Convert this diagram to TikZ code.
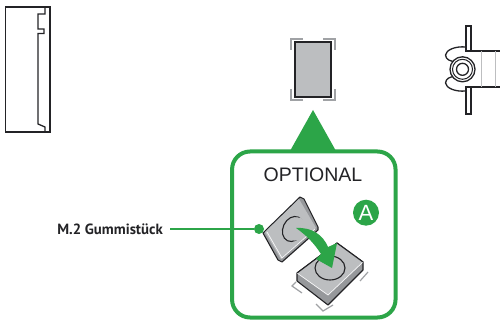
\documentclass[tikz,border=0pt]{standalone}
\usepackage{fontspec}
\setmainfont{Liberation Sans}
\newfontfamily\labelfont{PT Sans}
\definecolor{grn}{RGB}{44,165,72}
\definecolor{bodyg}{RGB}{188,190,192}
\definecolor{sideg}{RGB}{150,152,155}
\definecolor{dk}{RGB}{35,35,38}
\definecolor{brk}{RGB}{160,162,165}
\tikzset{
 ink/.style={draw=dk,line width=1.3pt,line join=miter},
 bracket/.style={draw=brk,line width=1.2pt},
 hair/.style={draw=brk!70,line width=0.8pt},
 edge/.style={draw=dk,line width=1.1pt,line join=round},
 whiteline/.style={draw=white!90!bodyg,line width=0.7pt},
 leader/.style={draw=grn,line width=2pt},
}
\begin{document}
\begin{tikzpicture}[x=1pt,y=-1pt]
\useasboundingbox (0,0) rectangle (500,320);
% left view
\draw[ink] (5.5,7) rectangle (50,132);
\draw[ink] (45,7) -- (45,14) -- (38,14) -- (38,29) -- (44,29) -- (44,33.5) -- (38,33.5) -- (38,124) -- (45,127) -- (45,132);
% top view
\draw[bracket] (291,50) -- (291,39) -- (303,39) (323,39) -- (335,39) -- (335,50)
 (335,89) -- (335,100) -- (323,100) (303,100) -- (291,100) -- (291,89);
\draw[ink,fill=bodyg] (295,42) rectangle (331,97);
% right view
\draw[ink] (471,51) -- (500,51) (471,87) -- (500,87);
\draw[hair] (481,51) -- (481,87) (495,51) -- (495,87);
\draw[ink,fill=white] (466,47) .. controls (455,46) and (446,50) .. (445.5,55) .. controls (446,60) and (450,61) .. (456,62) -- (466,56) -- cycle;
\draw[ink,fill=white] (466,91) .. controls (455,92) and (446,88) .. (445.5,83) .. controls (446,78) and (450,77) .. (456,76) -- (466,82) -- cycle;
\draw[ink,fill=white] (466,26) -- (471,26) -- (471,51) -- (466,51) -- cycle;
\draw[ink,fill=white] (466,87) -- (471,87) -- (471,114) -- (466,114) -- cycle;
\fill[white] (464,52) rectangle (472,86);
\draw[ink] (466,51) -- (471,51) (466,87) -- (471,87);
\draw[ink,fill=white] (462.5,69.3) circle (12.5);
\draw[ink,line width=1pt] (462.5,69.3) circle (10);
\draw[ink] (462.5,69.3) circle (6);
% panel
\fill[grn] (313,110) -- (336,151) -- (290,151) -- cycle;
\node[draw=grn,line width=4pt,fill=white,rounded corners=18pt,minimum width=163.5pt,minimum height=166pt,inner sep=0pt] (panel) at (313.8,234.5) {};
\node[font=\fontsize{19.5}{20}\selectfont,text=dk,inner sep=0pt] (opt) at (313,175) {OPTIONAL};
\node[circle,fill=grn,minimum size=26pt,inner sep=0pt,text=white,font=\fontsize{22}{22}\selectfont] (a) at (366,212.7) {A};
% upper piece
\draw[edge,fill=sideg] (300,197) -- (304,199) -- (318,227) -- (318,230) -- (282,262) -- (278,260) -- (263,233) -- cycle;
\fill[bodyg] (299,199) -- (316,228) -- (281,259) -- (265,232) -- cycle;
\draw[whiteline] (267,232) -- (282,258) -- (315,229);
\draw[edge,fill=bodyg] (293,229) ellipse[x radius=10,y radius=13,rotate=-25];
\fill[bodyg] (296,229) ellipse[x radius=10,y radius=12,rotate=-25];
% lower piece
\draw[edge,fill=sideg] (337,243) -- (363,262) -- (363,270) -- (328,305) -- (297,281) -- (297,273) -- cycle;
\fill[bodyg] (337,243) -- (363,262) -- (328,295) -- (297,273) -- cycle;
\draw[whiteline] (297,273) -- (328,295) -- (363,262);
\draw[edge] (337,243) -- (363,262) (337,243) -- (297,273);
\draw[edge] (330,268) ellipse[x radius=15,y radius=12];
\draw[bracket] (296,282) -- (292,286) -- (302,293) (316,304) -- (323,311) -- (333,305) (368,272) -- (360,281);
% arrow
\fill[grn] (296,228) .. controls (312,227) and (323,235) .. (328,247) -- (337,243) -- (332,268) -- (316,259) -- (321,254) .. controls (314,243) and (306,235) .. (296,228) -- cycle;
% label and leader
\node[inner sep=0pt,anchor=east,font=\labelfont\bfseries\fontsize{14.8}{15}\selectfont,text=dk] (lab) at (163,229) {M.2 Gummistück};
\node[circle,fill=grn,minimum size=10pt,inner sep=0pt] (dot) at (259,229) {};
\draw[leader] (170,229) -- (dot);
\end{tikzpicture}
\end{document}
